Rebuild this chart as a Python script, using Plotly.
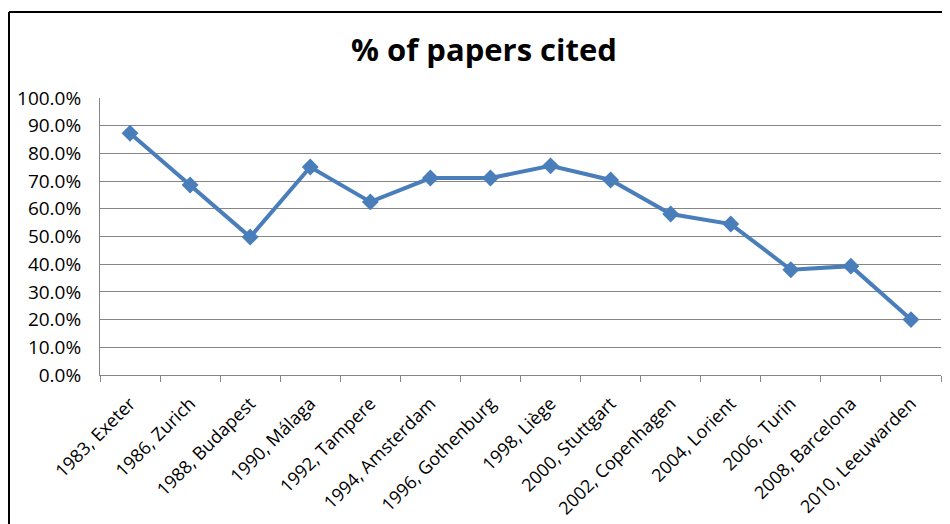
import plotly.graph_objects as go

categories = ["1983, Exeter", "1986, Zurich", "1988, Budapest", "1990, Málaga",
              "1992, Tampere", "1994, Amsterdam", "1996, Gothenburg", "1998, Liège",
              "2000, Stuttgart", "2002, Copenhagen", "2004, Lorient", "2006, Turin",
              "2008, Barcelona", "2010, Leeuwarden"]
pct_cited = [0.873, 0.686, 0.498, 0.751, 0.625, 0.711, 0.711, 0.755,
             0.704, 0.581, 0.545, 0.380, 0.393, 0.200]
y_ticks = [i / 10 for i in range(11)]

# page body has an 8px margin; work in figure coordinates
OFF = 8
W, H = 942, 516
L = 100 - OFF
T = 98 - OFF
R = W - (941 - OFF)
B = H - (375 - OFF)
pw, ph = W - L - R, H - T - B

def px_x(x):
    return (x - OFF - L) / pw

def px_y(y):
    return (H - B - (y - OFF)) / ph

fig = go.Figure()
fig.add_trace(go.Scatter(
    x=categories, y=pct_cited, mode="lines+markers",
    line=dict(color="#4a7ebb", width=4),
    marker=dict(symbol="diamond", size=13, color="#4a7ebb"),
    showlegend=False, hoverinfo="x+y",
))

fig.update_layout(
    width=W, height=H,
    margin=dict(l=L, r=R, t=T, b=B, autoexpand=False),
    paper_bgcolor="white", plot_bgcolor="white",
    font=dict(family="Open Sans, Liberation Sans, sans-serif", color="black", size=17),
    title=dict(text="<b>% of papers cited</b>", x=(484 - OFF) / W, xanchor="center",
               xref="container", y=1 - (50 - OFF) / H, yanchor="middle",
               font=dict(size=31, family="Open Sans, sans-serif", color="black")),
    xaxis=dict(
        type="category", tickangle=-45, showgrid=False,
        showline=True, linecolor="#868686", linewidth=1,
        ticks="outside", ticklen=6, tickcolor="#868686", tickson="boundaries",
        ticklabelstandoff=10,
        tickfont=dict(size=18, family="Open Sans, sans-serif"),
        range=[-0.5, len(categories) - 0.5],
    ),
    yaxis=dict(
        range=[0, 1.0], tickvals=y_ticks, tickformat=".1%",
        showgrid=True, gridcolor="#868686", gridwidth=1,
        showline=True, linecolor="#868686", linewidth=1,
        ticks="", ticklabelstandoff=14,
        tickfont=dict(size=19, family="Open Sans, sans-serif"),
        zeroline=False,
    ),
)

# chart frame (top and left edges visible)
fig.add_shape(type="line", xref="paper", yref="paper",
              x0=px_x(9), x1=px_x(970), y0=px_y(12), y1=px_y(12),
              line=dict(color="black", width=2))
fig.add_shape(type="line", xref="paper", yref="paper",
              x0=px_x(9), x1=px_x(9), y0=px_y(12), y1=px_y(560),
              line=dict(color="black", width=2))

fig.write_html("out.html")
